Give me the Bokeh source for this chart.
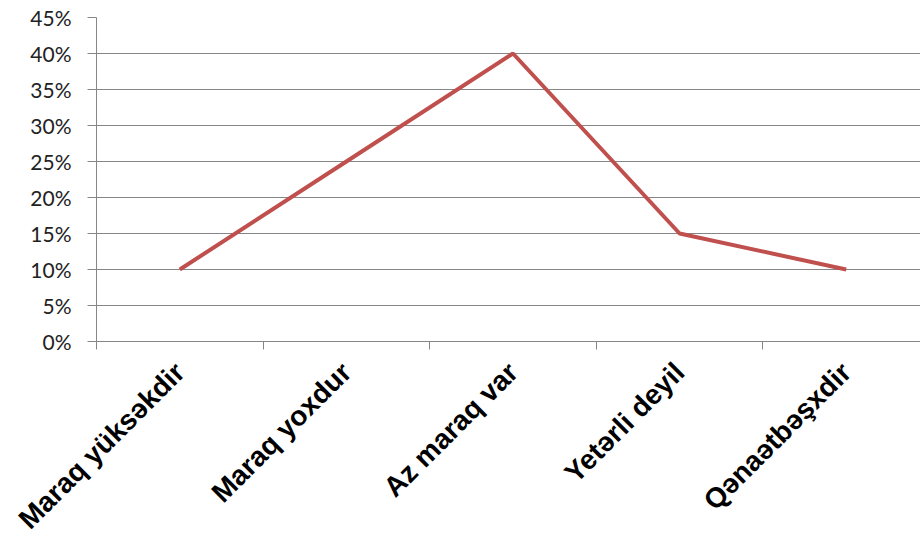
import math
from bokeh.plotting import figure
from bokeh.models import Range1d, FixedTicker, NumeralTickFormatter
from bokeh.embed import file_html
from bokeh.resources import INLINE

categories = ["Maraq yüksəkdir", "Maraq yoxdur", "Az maraq var", "Yetərli deyil", "Qənaətbəşxdir"]
values = [0.10, 0.25, 0.40, 0.15, 0.10]
y_ticks = [0.0, 0.05, 0.10, 0.15, 0.20, 0.25, 0.30, 0.35, 0.40, 0.45]

xs = [i + 0.5 for i in range(len(categories))]

p = figure(width=920, height=548, output_backend="svg", toolbar_location=None,
           x_range=Range1d(0, 4.946), y_range=Range1d(0, 0.45),
           min_border_left=96, min_border_right=0, min_border_top=17, min_border_bottom=207)
p.outline_line_color = None
p.background_fill_color = "white"
p.border_fill_color = "white"

p.line(xs, values, line_color="#C0504D", line_width=4)

# x axis
xa = p.xaxis[0]
xa.ticker = FixedTicker(ticks=xs, minor_ticks=list(range(len(categories) + 1)))
xa.major_label_overrides = {x: c for x, c in zip(xs, categories)}
xa.major_tick_line_color = None
xa.minor_tick_line_color = "#868686"
xa.minor_tick_out = 8
xa.minor_tick_in = 0
xa.axis_line_color = "#868686"
xa.major_label_orientation = math.pi / 4
xa.major_label_text_font = "Liberation Sans"
xa.major_label_text_font_style = "bold"
xa.major_label_text_font_size = "28px"
xa.major_label_text_color = "#000000"
xa.major_label_standoff = 18
p.xgrid.grid_line_color = None

# y axis
ya = p.yaxis[0]
ya.ticker = FixedTicker(ticks=y_ticks, minor_ticks=[])
ya.formatter = NumeralTickFormatter(format="0%")
ya.major_tick_line_color = "#868686"
ya.major_tick_out = 9
ya.major_tick_in = 0
ya.axis_line_color = "#868686"
ya.major_label_text_font = "Lato"
ya.major_label_text_font_size = "21px"
ya.major_label_text_color = "#222222"
ya.major_label_standoff = 16
p.ygrid.ticker = FixedTicker(ticks=y_ticks)
p.ygrid.grid_line_color = "#868686"
p.ygrid.grid_line_width = 1

open("out.html", "w").write(file_html(p, INLINE))
